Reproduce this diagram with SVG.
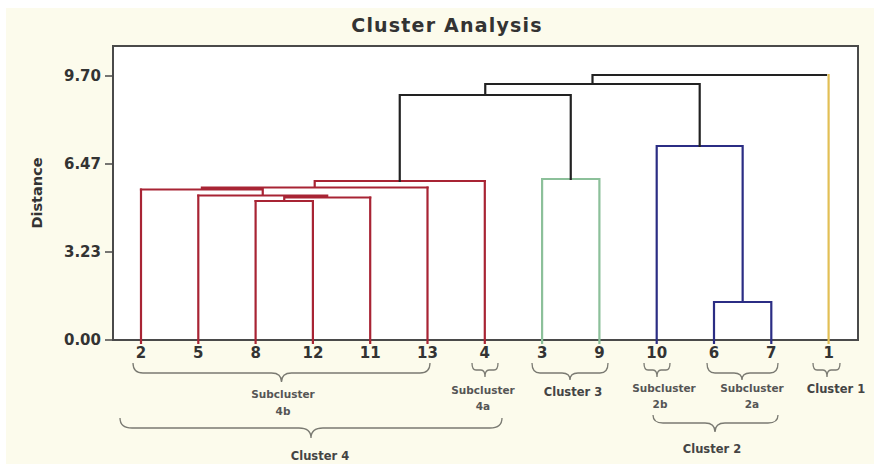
<svg xmlns="http://www.w3.org/2000/svg" width="874" height="464" viewBox="0 0 874 464">
<style>
.t{font-family:"DejaVu Sans","Liberation Sans",sans-serif;font-weight:bold;fill:#333}
.tick{font-size:15px;text-anchor:end}
.leaf{font-size:15px;text-anchor:middle}
.sub{font-size:10.5px;text-anchor:middle;fill:#555}
.cl{font-size:11.5px;text-anchor:middle;fill:#444}
.br{fill:none;stroke:#7a7a72;stroke-width:1.3}
.ln{fill:none;stroke-width:2.2;stroke-linecap:square}
.red{stroke:#a82434}.blk{stroke:#222}.grn{stroke:#8cc09a}.blu{stroke:#2b2d84}.yel{stroke:#e2bf55}
</style>
<rect x="6" y="8" width="868" height="456" fill="#fcfbec"/>
<g id="title"><text class="t" x="447" y="32" text-anchor="middle" font-size="19" letter-spacing="1.2" fill="#222">Cluster Analysis</text></g>
<g id="plot-frame">
<rect x="113" y="46" width="745" height="294" fill="#ffffff" stroke="#4a4a4a" stroke-width="2"/>
<path d="M105 76H113M105 164H113M105 252H113M105 340H113" stroke="#4a4a4a" stroke-width="1.5"/>
</g>
<g id="y-axis">
<text class="t tick" x="101" y="81">9.70</text>
<text class="t tick" x="101" y="169">6.47</text>
<text class="t tick" x="101" y="257">3.23</text>
<text class="t tick" x="101" y="345">0.00</text>
<text class="t" transform="translate(42,193) rotate(-90)" text-anchor="middle" font-family="Liberation Sans" font-size="14.5" fill="#222">Distance</text>
</g>
<g id="connectors">
<path class="ln red" d="M141 343V189.5M198.3 343V195.5M255.6 343V201M312.9 343V201M370.2 343V197.5M427.5 343V187.5M484.8 343V181"/>
<path class="ln red" d="M255.6 201H312.9M284.25 201V197.5M284.25 197.5H370.2M327.2 197.5V195.5M198.3 195.5H327.2M262.75 195.5V189.5M141 189.5H262.75M201.9 189.5V187.5M201.9 187.5H427.5M314.7 187.5V181M314.7 181H484.8"/>
<path class="ln grn" d="M542.1 343V179H599.4V343"/>
<path class="ln blu" d="M714 343V302H771.3V343M742.65 302V146M656.7 343V146H742.65"/>
<path class="ln yel" d="M828.6 343V75"/>
<path class="ln blk" d="M399.75 181V95H570.75V179M485.25 95V84H699.7V146M592.5 84V75H826"/>
</g>
<g id="leaf-labels">
<g id="leaf-2"><text class="t leaf" x="141" y="358">2</text></g>
<g id="leaf-5"><text class="t leaf" x="198.3" y="358">5</text></g>
<g id="leaf-8"><text class="t leaf" x="255.6" y="358">8</text></g>
<g id="leaf-12"><text class="t leaf" x="312.9" y="358">12</text></g>
<g id="leaf-11"><text class="t leaf" x="370.2" y="358">11</text></g>
<g id="leaf-13"><text class="t leaf" x="427.5" y="358">13</text></g>
<g id="leaf-4"><text class="t leaf" x="484.8" y="358">4</text></g>
<g id="leaf-3"><text class="t leaf" x="542.1" y="358">3</text></g>
<g id="leaf-9"><text class="t leaf" x="599.4" y="358">9</text></g>
<g id="leaf-10"><text class="t leaf" x="656.7" y="358">10</text></g>
<g id="leaf-6"><text class="t leaf" x="714" y="358">6</text></g>
<g id="leaf-7"><text class="t leaf" x="771.3" y="358">7</text></g>
<g id="leaf-1"><text class="t leaf" x="828.6" y="358">1</text></g>
</g>
<g id="subcluster-4b">
<path class="br" d="M133 363Q133 373 143 373H271.5Q281.5 373 281.5 382Q281.5 373 291.5 373H420Q430 373 430 363"/>
<text class="t sub" x="283" y="398">Subcluster</text><text class="t sub" x="283" y="415">4b</text>
</g>
<g id="subcluster-4a">
<path class="br" d="M472 363Q472 370 476 370H481Q485 370 485 377Q485 370 489 370H494Q498 370 498 363"/>
<text class="t sub" x="483" y="394">Subcluster</text><text class="t sub" x="483" y="410">4a</text>
</g>
<g id="cluster-3">
<path class="br" d="M532 363Q532 373 540 373H562Q570 373 570 380Q570 373 578 373H600Q608 373 608 363"/>
<text class="t cl" x="573" y="396">Cluster 3</text>
</g>
<g id="subcluster-2b">
<path class="br" d="M644 363Q644 370 648 370H653Q657 370 657 377Q657 370 661 370H666Q670 370 670 363"/>
<text class="t sub" x="664" y="392">Subcluster</text><text class="t sub" x="660" y="408">2b</text>
</g>
<g id="subcluster-2a">
<path class="br" d="M707 363Q707 373 715 373H734Q742 373 742 380Q742 373 750 373H770Q778 373 778 363"/>
<text class="t sub" x="752" y="392">Subcluster</text><text class="t sub" x="752" y="408">2a</text>
</g>
<g id="cluster-1">
<path class="br" d="M813 363Q813 370 817 370H823Q827 370 827 377Q827 370 831 370H836Q840 370 840 363"/>
<text class="t cl" x="836" y="393">Cluster 1</text>
</g>
<g id="cluster-2">
<path class="br" d="M653 415Q653 423 663 423H705Q715 423 715 432Q715 423 725 423H768Q778 423 778 415"/>
<text class="t cl" x="712" y="453">Cluster 2</text>
</g>
<g id="cluster-4">
<path class="br" d="M120 418Q120 428 132 428H299Q311 428 311 438Q311 428 323 428H490Q502 428 502 418"/>
<text class="t cl" x="320" y="460">Cluster 4</text>
</g>
</svg>
